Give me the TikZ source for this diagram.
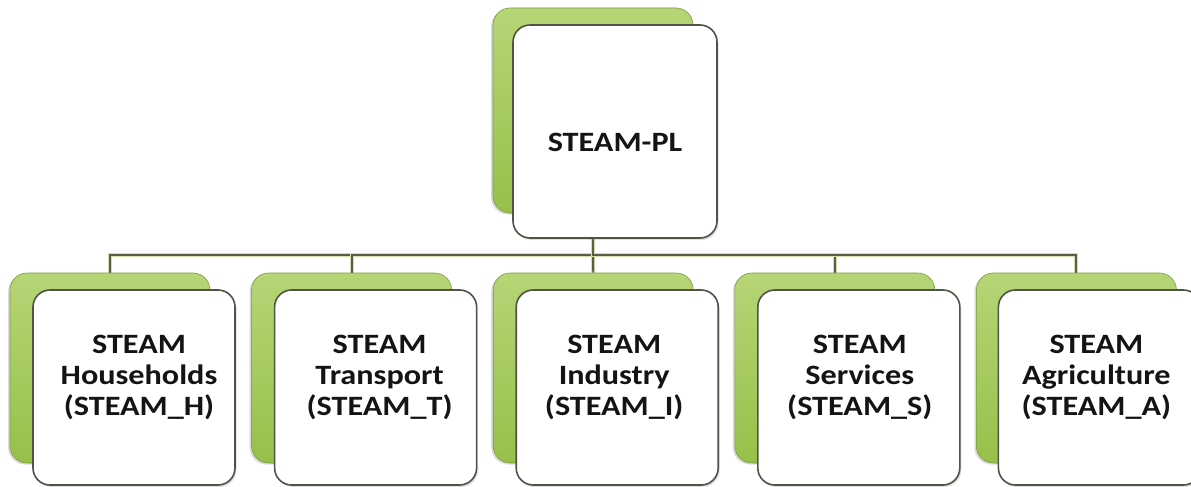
\documentclass[tikz,border=0pt]{standalone}
\usepackage{fontspec}
\setmainfont{Carlito}[FakeStretch=1.15]
\usetikzlibrary{shadows}
\definecolor{gtop}{RGB}{182,213,118}
\definecolor{gbot}{RGB}{150,192,74}
\definecolor{gedge}{RGB}{125,155,64}
\definecolor{wedge}{RGB}{80,84,70}
\definecolor{lnk}{RGB}{88,94,74}
\definecolor{lnkglow}{RGB}{208,226,170}
\definecolor{txt}{RGB}{20,20,20}
\pgfdeclarelayer{paper}
\pgfdeclarelayer{background}
\pgfsetlayers{paper,background,main}
\begin{document}
\begin{tikzpicture}[x=1pt,y=-1pt,
  greenbox/.style={rectangle, rounded corners=17pt, top color=gtop, bottom color=gbot,
    draw=gedge, line width=0.6pt, inner sep=0pt,
    drop shadow={opacity=0.28, shadow xshift=-2pt, shadow yshift=-1.5pt}},
  whitebox/.style={rectangle, rounded corners=17pt, fill=white, draw=wedge,
    line width=1.6pt, inner sep=0pt,
    drop shadow={opacity=0.25, shadow xshift=1.5pt, shadow yshift=-2pt}},
  childg/.style={greenbox, minimum width=200pt, minimum height=190pt},
  childw/.style={whitebox, minimum width=202pt, minimum height=195pt},
  lbl/.style={font=\bfseries\fontsize{28}{31}\selectfont, align=center, inner sep=0pt, text=txt},
  link/.style={draw=lnk, line width=1.9pt,
    preaction={draw=lnkglow, line width=4pt}}
]
\useasboundingbox (0,0) rectangle (1191,487);
\begin{pgfonlayer}{paper}
\fill[white] (0,0) rectangle (1191,487);
\end{pgfonlayer}

% top box
\node[greenbox, minimum width=200pt, minimum height=205pt] (pgG) at (593,110.5) {};
\node[whitebox, minimum width=204pt, minimum height=213pt] (pgW) at (615,131.5) {};
\node[lbl, anchor=base] (pgT) at (615,151) {STEAM-PL};

% children
\node[childg] (hG) at (110,368) {};
\node[childw] (hW) at (134,387.5) {};
\node[lbl] (hT) at (139,377) {STEAM\\Households\\(STEAM\_H)};

\node[childg] (tG) at (351.6,368) {};
\node[childw] (tW) at (375.6,387.5) {};
\node[lbl] (tT) at (379.6,377) {STEAM\\Transport\\(STEAM\_T)};

\node[childg] (iG) at (593.2,368) {};
\node[childw] (iW) at (617.2,387.5) {};
\node[lbl] (iT) at (614.2,377) {STEAM\\Industry\\(STEAM\_I)};

\node[childg] (sG) at (834.8,368) {};
\node[childw] (sW) at (858.8,387.5) {};
\node[lbl] (sT) at (859.8,377) {STEAM\\Services\\(STEAM\_S)};

\node[childg] (aG) at (1076.4,368) {};
\node[childw] (aW) at (1099.4,387.5) {};
\node[lbl] (aT) at (1096.4,377) {STEAM\\Agriculture\\(STEAM\_A)};

% connectors
\begin{pgfonlayer}{background}
\draw[link] (pgG.south) -- ++(0,42) -| (hG.north);
\draw[link] (pgG.south) -- ++(0,42) -| (tG.north);
\draw[link] (pgG.south) -- (iG.north);
\draw[link] (pgG.south) -- ++(0,42) -| (sG.north);
\draw[link] (pgG.south) -- ++(0,42) -| (aG.north);
\end{pgfonlayer}
\end{tikzpicture}
\end{document}
